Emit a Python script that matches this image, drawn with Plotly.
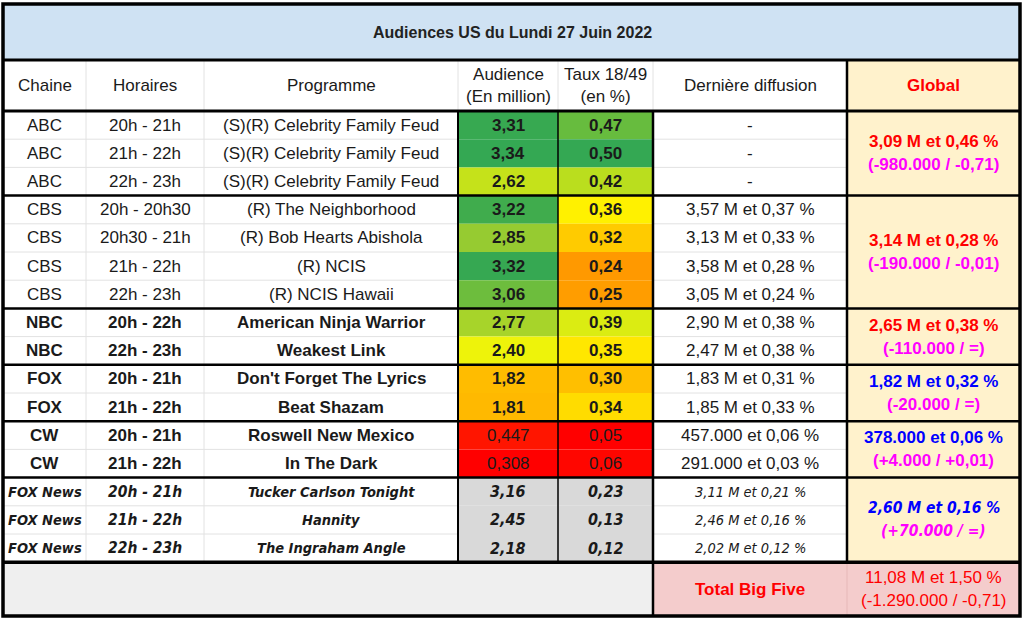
import plotly.graph_objects as go


TITRE = "Audiences US du Lundi 27 Juin 2022"
COLONNES = ["Chaine", "Horaires", "Programme", "Audience<br>(En million)",
            "Taux 18/49<br>(en %)", "Dernière diffusion"]
COLONNE_GLOBAL = "Global"

chaines = ["ABC", "ABC", "ABC", "CBS", "CBS", "CBS", "CBS", "NBC", "NBC",
           "FOX", "FOX", "CW", "CW", "FOX News", "FOX News", "FOX News"]
horaires = ["20h - 21h", "21h - 22h", "22h - 23h", "20h - 20h30", "20h30 - 21h",
            "21h - 22h", "22h - 23h", "20h - 22h", "22h - 23h", "20h - 21h",
            "21h - 22h", "20h - 21h", "21h - 22h", "20h - 21h", "21h - 22h",
            "22h - 23h"]
programmes = ["(S)(R) Celebrity Family Feud", "(S)(R) Celebrity Family Feud",
              "(S)(R) Celebrity Family Feud", "(R) The Neighborhood",
              "(R) Bob Hearts Abishola", "(R) NCIS", "(R) NCIS Hawaii",
              "American Ninja Warrior", "Weakest Link", "Don't Forget The Lyrics",
              "Beat Shazam", "Roswell New Mexico", "In The Dark",
              "Tucker Carlson Tonight", "Hannity", "The Ingraham Angle"]
audiences = [3.31, 3.34, 2.62, 3.22, 2.85, 3.32, 3.06, 2.77, 2.40, 1.82, 1.81,
             0.447, 0.308, 3.16, 2.45, 2.18]
taux = [0.47, 0.50, 0.42, 0.36, 0.32, 0.24, 0.25, 0.39, 0.35, 0.30, 0.34,
        0.05, 0.06, 0.23, 0.13, 0.12]
dernieres = ["-", "-", "-", "3,57 M et 0,37 %", "3,13 M et 0,33 %",
             "3,58 M et 0,28 %", "3,05 M et 0,24 %", "2,90 M et 0,38 %",
             "2,47 M et 0,38 %", "1,83 M et 0,31 %", "1,85 M et 0,33 %",
             "457.000 et 0,06 %", "291.000 et 0,03 %", "3,11 M et 0,21 %",
             "2,46 M et 0,16 %", "2,02 M et 0,12 %"]

groupes = ["ABC", "CBS", "NBC", "FOX", "CW", "FOX News"]
global_scores = ["3,09 M et 0,46 %", "3,14 M et 0,28 %", "2,65 M et 0,38 %",
                 "1,82 M et 0,32 %", "378.000 et 0,06 %", "2,60 M et 0,16 %"]
global_ecarts = ["(-980.000 / -0,71)", "(-190.000 / -0,01)", "(-110.000 / =)",
                 "(-20.000 / =)", "(+4.000 / +0,01)", "(+70.000 / =)"]

total_label = "Total Big Five"
total_score = "11,08 M et 1,50 %"
total_ecart = "(-1.290.000 / -0,71)"

# couleurs de la mise en forme conditionnelle
couleurs_audience = ["#37a951", "#34a853", "#c5e21a", "#40ac4d", "#96cb31",
                     "#36a852", "#6dbd3d", "#a7d42a", "#eef30a", "#ffbc00",
                     "#ffb900", "#ff1500", "#ff0000", "#d9d9d9", "#d9d9d9",
                     "#d9d9d9"]
couleurs_taux = ["#67bc3e", "#34a853", "#bade1e", "#fff100", "#ffcb00",
                 "#ff9900", "#ff9d00", "#dbec12", "#ffe700", "#ffbf00",
                 "#ffdc00", "#ff0000", "#ff0600", "#d9d9d9", "#d9d9d9",
                 "#d9d9d9"]
couleurs_global = ["#ff0000", "#ff0000", "#ff0000", "#0000ff", "#0000ff", "#0000ff"]

# géométrie (pixels)
X = [3, 86, 204, 458, 558, 653, 847, 1020]
Y_TOP, Y_TITRE, Y_ENTETE = 4, 60, 111
H_LIGNE = 28.2
Y_BAS = 616

POLICE = "Liberation Sans, Arial, sans-serif"
ETROITE = "DejaVu Sans Condensed, Liberation Sans Narrow, sans-serif"
T = 17      # taille du texte courant
T_NEWS = 14.5


def fr(v, d):
    return f"{v:.{d}f}".replace(".", ",")


def y_ligne(i):
    return Y_ENTETE + i * H_LIGNE


shapes = []
annotations = []


def rect(x0, y0, x1, y1, fill):
    shapes.append(dict(type="rect", x0=x0, x1=x1, y0=y0, y1=y1, xref="x", yref="y",
                       fillcolor=fill, line=dict(width=0), layer="below"))


def ligne(x0, y0, x1, y1, color="#000000", width=1):
    shapes.append(dict(type="line", x0=x0, x1=x1, y0=y0, y1=y1, xref="x", yref="y",
                       line=dict(color=color, width=width)))


def texte(x, y, txt, size=T, color="#1a1a1a", family=POLICE):
    annotations.append(dict(x=x, y=y, xref="x", yref="y", text=txt, showarrow=False,
                            font=dict(family=family, size=size, color=color),
                            xanchor="center", yanchor="middle"))


n = len(chaines)
y_fin = y_ligne(n)
centres = [(X[i] + X[i + 1]) / 2 for i in range(len(X) - 1)]

# fonds
rect(X[0], Y_TOP, X[-1], Y_TITRE, "#cfe2f3")
rect(X[6], Y_TITRE, X[7], y_fin, "#fff2cc")
rect(X[0], y_fin, X[5], Y_BAS, "#efefef")
rect(X[5], y_fin, X[7], Y_BAS, "#f4cccc")
for i in range(n):
    rect(X[3], y_ligne(i), X[4], y_ligne(i + 1), couleurs_audience[i])
    rect(X[4], y_ligne(i), X[5], y_ligne(i + 1), couleurs_taux[i])

# grille claire
for i in range(1, n):
    ligne(X[0], y_ligne(i), X[3], y_ligne(i), "#e2e2e2", 1)
    ligne(X[5], y_ligne(i), X[6], y_ligne(i), "#e2e2e2", 1)
for xv in X[1:3]:
    ligne(xv, Y_TITRE, xv, y_fin, "#e2e2e2", 1)
for xv in X[3:6]:
    ligne(xv, Y_TITRE, xv, Y_ENTETE, "#e2e2e2", 1)
ligne(X[6], y_fin, X[6], Y_BAS, "#e6b8b8", 1)

# traits noirs
ligne(X[0], Y_TITRE, X[-1], Y_TITRE, width=3)
ligne(X[0], Y_ENTETE, X[-1], Y_ENTETE, width=3)
ligne(X[3], Y_ENTETE, X[3], y_fin, width=2)
ligne(X[4], Y_ENTETE, X[4], y_fin, width=1.5)
ligne(X[5], Y_ENTETE, X[5], Y_BAS, width=2.5)
ligne(X[6], Y_TITRE, X[6], y_fin, width=2.5)

debut = 0
bornes = []
for g in groupes:
    fin = debut + chaines.count(g)
    bornes.append((debut, fin))
    if fin < n:
        ligne(X[0], y_ligne(fin), X[-1], y_ligne(fin), width=2.5)
    debut = fin
ligne(X[0], y_fin, X[-1], y_fin, width=3.5)
shapes.append(dict(type="rect", x0=X[0], x1=X[-1], y0=Y_TOP, y1=Y_BAS, xref="x", yref="y",
                   line=dict(color="#000000", width=3.5)))

# titre et entêtes
texte(512, (Y_TOP + Y_TITRE) / 2, f"<b>{TITRE}</b>", size=16, color="#222222")
for c, nom in zip(centres, COLONNES):
    texte(c, (Y_TITRE + Y_ENTETE) / 2, nom)
texte(centres[6], (Y_TITRE + Y_ENTETE) / 2, f"<b>{COLONNE_GLOBAL}</b>", color="#ff0000")

# lignes de programmes
for gi, (d, f) in enumerate(bornes):
    g = groupes[gi]
    for i in range(d, f):
        yc = y_ligne(i) + H_LIGNE / 2
        aud = fr(audiences[i], 3 if audiences[i] < 1 else 2)
        tx = fr(taux[i], 2)
        if g == "FOX News":
            cellules = [f"<b><i>{chaines[i]}</i></b>", f"<b><i>{horaires[i]}</i></b>",
                        f"<b><i>{programmes[i]}</i></b>", f"<b><i>{aud}</i></b>",
                        f"<b><i>{tx}</i></b>", f"<i>{dernieres[i]}</i>"]
            tailles = [T_NEWS, T_NEWS + 1, T_NEWS, T_NEWS + 1.5, T_NEWS + 1.5, T_NEWS]
            for c, t, s in zip(centres, cellules, tailles):
                texte(c, yc, t, size=s, family=ETROITE)
            continue
        if g in ("ABC", "CBS"):
            cellules = [chaines[i], horaires[i], programmes[i], f"<b>{aud}</b>",
                        f"<b>{tx}</b>", dernieres[i]]
        elif g == "CW":
            cellules = [f"<b>{chaines[i]}</b>", f"<b>{horaires[i]}</b>",
                        f"<b>{programmes[i]}</b>", aud, tx, dernieres[i]]
        else:
            cellules = [f"<b>{chaines[i]}</b>", f"<b>{horaires[i]}</b>",
                        f"<b>{programmes[i]}</b>", f"<b>{aud}</b>", f"<b>{tx}</b>",
                        dernieres[i]]
        for c, t in zip(centres, cellules):
            texte(c, yc, t)

    # colonne Global
    ym = (y_ligne(d) + y_ligne(f)) / 2
    fam = ETROITE if g == "FOX News" else POLICE
    taille = T_NEWS + 1 if g == "FOX News" else T
    deb, fin_b = ("<b><i>", "</i></b>") if g == "FOX News" else ("<b>", "</b>")
    texte(centres[6], ym - 11.5, f"{deb}{global_scores[gi]}{fin_b}", size=taille,
          color=couleurs_global[gi], family=fam)
    texte(centres[6], ym + 11.5, f"{deb}{global_ecarts[gi]}{fin_b}", size=taille,
          color="#ff00ff", family=fam)

# total
yb = (y_fin + Y_BAS) / 2
texte(centres[5], yb, f"<b>{total_label}</b>", color="#ff0000")
texte(centres[6], yb - 11.5, total_score, color="#ff0000")
texte(centres[6], yb + 11.5, total_ecart, color="#ff0000")

fig = go.Figure()
fig.update_layout(
    width=1023, height=621,
    margin=dict(l=0, r=0, t=0, b=0),
    paper_bgcolor="#ffffff", plot_bgcolor="#ffffff",
    xaxis=dict(range=[0, 1023], visible=False, fixedrange=True),
    yaxis=dict(range=[621, 0], visible=False, fixedrange=True),
    shapes=shapes, annotations=annotations, showlegend=False,
)
fig.write_html("out.html", config={"displayModeBar": False},
               post_script="document.body.style.margin='0';document.body.style.overflow='hidden';")
